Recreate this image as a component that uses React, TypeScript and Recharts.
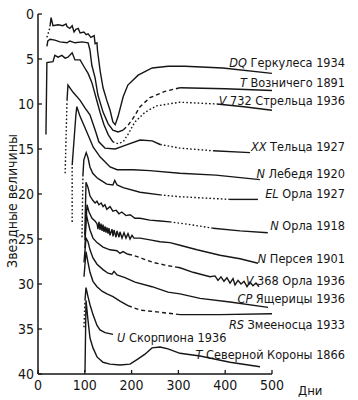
import React from 'react';
import { LineChart, Line, XAxis, YAxis, ReferenceDot } from 'recharts';

type Pt = [number, number];

// Light curves: [day, magnitude (offset)]
const dqDotted: Pt[] = [[19, 2.6], [24, 1.8], [26, 1.2]];
const dqSolid: Pt[] = [[26, 1.2], [28, 0.4], [32, 1.3], [43, 1.2], [53, 1.3], [60, 1.1], [62, 1.4], [68, 1.6], [73, 1.3], [77, 2.0], [81, 1.7], [86, 1.6], [90, 2.1], [98, 2.0], [103, 2.3], [107, 2.2], [113, 2.6], [120, 2.4], [122, 3.3], [126, 3.2], [127, 4.0], [133, 6.4], [139, 8.2], [147, 9.6], [154, 10.7], [160, 12.0], [165, 12.3], [171, 11.4], [182, 9.2], [192, 7.9], [214, 6.8], [244, 6.0], [278, 5.8], [314, 5.8], [395, 6.0], [500, 6.6]];

const tauSolid: Pt[] = [[19, 3.6], [21, 3.0], [26, 2.8], [36, 2.9], [47, 3.1], [62, 3.2], [68, 3.0], [79, 3.2], [94, 3.1], [107, 3.2], [111, 4.0], [115, 5.7], [122, 7.1], [128, 9.0], [139, 10.9], [150, 12.2], [160, 12.9], [171, 13.1], [182, 12.9]];
const tauDashed: Pt[] = [[182, 12.9], [192, 12.4], [203, 11.6], [218, 10.3], [239, 9.3], [271, 8.6], [303, 8.2]];
const tauSolid2: Pt[] = [[303, 8.2], [400, 8.3], [500, 8.5]];

const sgrSolid: Pt[] = [[17, 13.4], [19, 5.4], [32, 5.3], [36, 4.6], [43, 4.8], [51, 4.6], [58, 4.9], [64, 4.8], [73, 4.3], [79, 5.1], [90, 5.1], [100, 6.0], [107, 6.6], [115, 7.6], [124, 9.3], [133, 11.0], [141, 12.3], [150, 13.4], [160, 14.2]];
const sgrDotted: Pt[] = [[160, 14.2], [171, 14.4], [182, 14.2], [192, 13.4], [207, 12.0], [229, 10.9], [254, 10.2], [303, 9.8], [382, 10.0]];
const sgrSolid2: Pt[] = [[382, 10.0], [440, 10.3], [500, 10.7]];

const tauXXDotted: Pt[] = [[58, 17.7], [62, 9.6]];
const tauXXSolid: Pt[] = [[62, 9.6], [64, 7.9], [75, 8.7], [90, 9.6], [100, 10.4], [111, 11.2], [117, 12.1], [124, 13.2], [130, 14.2], [143, 14.9], [165, 15.0], [186, 14.6], [218, 14.0], [244, 14.1], [261, 14.5]];
const tauXXDotted2: Pt[] = [[261, 14.5], [303, 14.9], [374, 15.2]];
const tauXXSolid2: Pt[] = [[374, 15.2], [453, 15.4]];

const cygDotted: Pt[] = [[73, 23.1], [73, 16.8]];
const cygSolid: Pt[] = [[73, 16.8], [77, 14.0], [81, 11.2], [83, 10.3], [90, 11.4], [105, 13.2], [118, 14.8], [133, 15.9], [154, 17.0], [169, 17.3], [203, 17.3], [239, 17.4], [303, 17.7], [380, 17.9], [474, 18.4]];

const elDotted: Pt[] = [[94, 24.8], [96, 17.9]];
const elSolid: Pt[] = [[96, 17.9], [98, 16.2], [103, 15.4], [107, 16.0], [111, 17.0], [117, 17.7], [126, 18.2], [132, 18.4], [147, 18.9], [160, 19.0], [164, 18.5], [169, 19.0], [182, 19.3], [218, 19.8], [261, 20.1]];
const elDotted2: Pt[] = [[261, 20.1], [303, 20.3], [410, 20.6]];
const elSolid2: Pt[] = [[410, 20.6], [470, 20.6]];

const aql18Solid: Pt[] = [[100, 24.6], [102.6, 18.7], [107, 19.3], [111, 20.2], [117, 20.7], [122, 21.0], [126, 20.8], [130, 21.2], [135, 21.0], [139, 21.4], [143, 21.2], [147, 21.7], [154, 21.4], [160, 21.9], [167, 21.8], [173, 22.2], [179, 22.0], [188, 22.4], [197, 22.3], [207, 22.7], [218, 22.7], [239, 22.9], [261, 23.0], [282, 23.1]];
const aql18Dotted: Pt[] = [[282, 23.1], [325, 23.4], [374, 23.8]];
const aql18Solid2: Pt[] = [[374, 23.8], [432, 24.1], [491, 24.3]];

const perSolid: Pt[] = [[100.4, 25.1], [104.7, 21.2], [109, 22.0], [115.4, 22.7], [121.8, 23.0], [126.1, 23.3], [128.2, 23.9], [130.3, 23.1], [132.5, 24.0], [134.6, 23.3], [136.8, 24.1], [138.9, 23.4], [141, 24.2], [143.2, 23.6], [145.3, 24.3], [147.4, 23.7], [149.6, 24.4], [151.7, 23.8], [153.8, 24.6], [158.1, 23.9], [160.3, 24.7], [162.4, 24.0], [166.7, 24.8], [168.8, 24.1], [173.1, 24.8], [175.2, 24.2], [179.5, 24.9], [183.8, 24.3], [188, 24.9], [192.3, 24.4], [196.6, 25.0], [200.9, 24.6], [205.1, 24.9], [218, 24.9], [239.3, 25.1], [260.7, 25.3], [282, 25.4], [303.4, 25.7], [339.7, 26.2], [388.9, 26.8], [431.6, 27.2], [470.1, 27.7]];

const aql36Solid: Pt[] = [[100.4, 26.0], [102.6, 22.1], [106.8, 23.1], [111.1, 24.0], [117.5, 24.9], [126.1, 25.4], [138.9, 25.9], [153.8, 26.2], [168.8, 26.3], [175.2, 26.6], [181.6, 26.4], [192.3, 26.7]];
const aql36Dashed: Pt[] = [[192.3, 26.7], [203, 26.8], [224.4, 27.2], [245.7, 27.6], [271.4, 27.9], [292.7, 28.1]];
const aql36Solid2: Pt[] = [[292.7, 28.1], [303.4, 28.2], [331.2, 28.7], [367.5, 29.2], [378.2, 29.1], [384.6, 29.6], [391, 29.2], [397.4, 29.7], [403.8, 29.3], [410.3, 29.9], [416.7, 29.4], [420.9, 30.1], [427.4, 29.6], [433.8, 30.0], [440.2, 29.7], [446.6, 30.3], [453, 29.8], [459.4, 30.2], [465.8, 29.9], [472.2, 30.3]];

const lacSolid: Pt[] = [[98.3, 27.6], [102.6, 24.9], [106.8, 25.3], [111.1, 26.2], [117.5, 27.1], [126.1, 27.8], [138.9, 28.4], [149.6, 28.8], [158.1, 28.9], [162.4, 28.6], [168.8, 29.0], [185.9, 29.3], [207.3, 29.8], [243.6, 30.3], [277.8, 30.9], [303.4, 31.1], [346.2, 31.6], [410.3, 32.0], [491.5, 32.6]];

const ophSolid: Pt[] = [[98.3, 29.2], [102.6, 26.4], [106.8, 27.6], [111.1, 28.7], [117.5, 29.7], [126.1, 30.3], [136.8, 30.8], [147.4, 31.1], [160.3, 31.4], [175.2, 31.9], [192.3, 32.4]];
const ophDashed: Pt[] = [[192.3, 32.4], [218, 32.9], [254.3, 33.1], [303.4, 33.4]];
const ophSolid2: Pt[] = [[303.4, 33.4], [388.9, 33.4], [500, 33.3]];

const scoDotted: Pt[] = [[98.3, 34.8], [100.4, 31.8]];
const scoSolid: Pt[] = [[100.4, 31.8], [102.6, 30.4], [106.8, 31.4], [111.1, 32.3], [117.5, 33.4], [126.1, 34.6], [132.5, 35.1], [143.2, 35.4], [160.3, 35.6]];

const crbSolid: Pt[] = [[100.4, 39.8], [102.6, 31.8], [106.8, 34.0], [111.1, 36.0], [117.5, 37.1], [126.1, 38.1], [138.9, 38.7], [153.8, 38.9], [175.2, 39.0], [196.6, 38.9], [211.5, 38.4], [228.6, 37.8], [243.6, 37.1], [260.7, 37.0], [277.8, 37.2], [303.4, 37.7], [346.2, 38.0], [410.3, 38.7], [474.4, 39.2]];

// Labels
const starNames = ['DQ', 'T', 'V', 'XX', 'N', 'EL', 'N', 'N', 'V', 'CP', 'RS', 'T'];
const starRest = [' Геркулеса 1934', ' Возничего 1891', ' 732 Стрельца 1936', ' Тельца 1927', ' Лебедя 1920', ' Орла 1927', ' Орла 1918', ' Персея 1901', ' 368 Орла 1936', ' Ящерицы 1936', ' Змееносца 1933', ' Северной Короны 1866'];
const labelMags = [5.3, 7.6, 9.6, 14.7, 17.7, 19.9, 23.4, 27.1, 29.6, 31.6, 34.4, 37.8];
const LABEL_END_DAY = 656;
const scoLabel = { name: 'U', rest: ' Скорпиона 1936', day: 169, mag: 35.9 };

const xTicks = [0, 100, 200, 300, 400, 500];
const yTicks = [0, 5, 10, 15, 20, 25, 30, 35, 40];

const FONT = "'DejaVu Sans Condensed', 'DejaVu Sans', sans-serif";
const INK = '#161616';

type Seg = { data: Pt[]; style: 'solid' | 'dashed' | 'dotted' };
const segments: Seg[] = [
  { data: dqDotted, style: 'dotted' }, { data: dqSolid, style: 'solid' },
  { data: tauSolid, style: 'solid' }, { data: tauDashed, style: 'dashed' }, { data: tauSolid2, style: 'solid' },
  { data: sgrSolid, style: 'solid' }, { data: sgrDotted, style: 'dotted' }, { data: sgrSolid2, style: 'solid' },
  { data: tauXXDotted, style: 'dotted' }, { data: tauXXSolid, style: 'solid' }, { data: tauXXDotted2, style: 'dotted' }, { data: tauXXSolid2, style: 'solid' },
  { data: cygDotted, style: 'dotted' }, { data: cygSolid, style: 'solid' },
  { data: elDotted, style: 'dotted' }, { data: elSolid, style: 'solid' }, { data: elDotted2, style: 'dotted' }, { data: elSolid2, style: 'solid' },
  { data: aql18Solid, style: 'solid' }, { data: aql18Dotted, style: 'dotted' }, { data: aql18Solid2, style: 'solid' },
  { data: perSolid, style: 'solid' },
  { data: aql36Solid, style: 'solid' }, { data: aql36Dashed, style: 'dashed' }, { data: aql36Solid2, style: 'solid' },
  { data: lacSolid, style: 'solid' },
  { data: ophSolid, style: 'solid' }, { data: ophDashed, style: 'dashed' }, { data: ophSolid2, style: 'solid' },
  { data: scoDotted, style: 'dotted' }, { data: scoSolid, style: 'solid' },
  { data: crbSolid, style: 'solid' },
];

const dash = { solid: undefined, dashed: '4 3', dotted: '1.6 2.2' } as const;

const toRows = (pts: Pt[]) => pts.map(([day, mag]) => ({ day, mag }));

function starLabel(name: string, rest: string, anchor: 'start' | 'end') {
  return (props: any) => {
    const vb = props.viewBox || {};
    return (
      <text x={vb.x} y={vb.y} textAnchor={anchor} dominantBaseline="central" fontSize={12.6} fontFamily={FONT} fill={INK}>
        <tspan fontStyle="italic">{name}</tspan>
        <tspan>{rest}</tspan>
      </text>
    );
  };
}

export default function App() {
  return (
    <div style={{ position: 'absolute', left: 0, top: 0 }}>
      <LineChart width={358} height={400} margin={{ top: 14, right: 86, left: 0, bottom: 6 }}>
        <XAxis
          type="number"
          dataKey="day"
          domain={[0, 500]}
          ticks={xTicks}
          interval={0}
          allowDataOverflow
          tickSize={-4}
          tickMargin={10}
          height={20}
          axisLine={{ stroke: INK, strokeWidth: 1.5 }}
          tickLine={{ stroke: INK, strokeWidth: 1.3 }}
          tick={{ fill: INK, fontSize: 14, fontFamily: FONT }}
          label={(p: any) => {
            const vb = p.viewBox || {};
            return (
              <text x={vb.x + vb.width + 26} y={vb.y + 16} dominantBaseline="central" fontSize={13} fontFamily={FONT} fill={INK}>
                Дни
              </text>
            );
          }}
        />
        <YAxis
          type="number"
          domain={[0, 40]}
          reversed
          ticks={yTicks}
          interval={0}
          allowDataOverflow
          width={38}
          tickSize={-4}
          tickMargin={8}
          axisLine={{ stroke: INK, strokeWidth: 1.5 }}
          tickLine={{ stroke: INK, strokeWidth: 1.3 }}
          tick={{ fill: INK, fontSize: 14, fontFamily: FONT }}
          label={(p: any) => {
            const vb = p.viewBox || {};
            const cx = vb.x + 17;
            const cy = vb.y + vb.height / 2 + 7;
            return (
              <text x={cx} y={cy} transform={`rotate(-90 ${cx} ${cy})`} textAnchor="middle" fontSize={14} fontFamily={FONT} fill={INK}>
                Звездные величины
              </text>
            );
          }}
        />
        {segments.map((s, i) => (
          <Line
            key={i}
            data={toRows(s.data)}
            dataKey="mag"
            type="linear"
            stroke={INK}
            strokeWidth={1.4}
            strokeDasharray={dash[s.style]}
            dot={false}
            activeDot={false}
            isAnimationActive={false}
          />
        ))}
        {labelMags.map((m, i) => (
          <ReferenceDot
            key={'l' + i}
            x={LABEL_END_DAY}
            y={m}
            r={0}
            fill="none"
            stroke="none"
            ifOverflow="visible"
            label={starLabel(starNames[i], starRest[i], 'end')}
          />
        ))}
        <ReferenceDot
          x={scoLabel.day}
          y={scoLabel.mag}
          r={0}
          fill="none"
          stroke="none"
          ifOverflow="visible"
          label={starLabel(scoLabel.name, scoLabel.rest, 'start')}
        />
      </LineChart>
    </div>
  );
}
